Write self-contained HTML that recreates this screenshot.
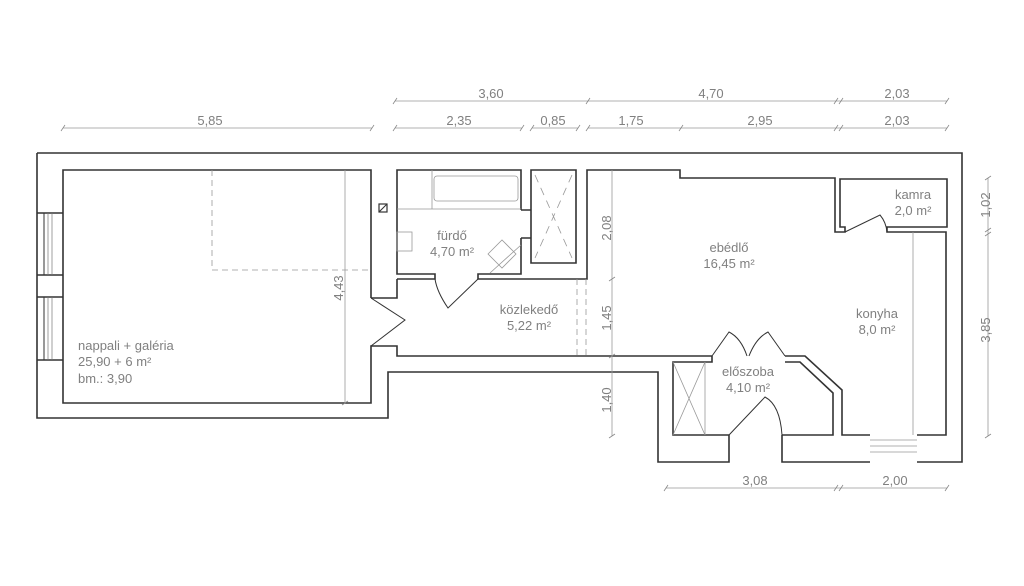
<!DOCTYPE html>
<html><head><meta charset="utf-8"><style>
html,body{margin:0;padding:0;background:#fff;width:1024px;height:586px;overflow:hidden}
text{font-family:"Liberation Sans",sans-serif;fill:#808080;font-size:13px}
</style></head><body>
<svg width="1024" height="586" viewBox="0 0 1024 586" xmlns="http://www.w3.org/2000/svg">
<g fill="none" stroke="#333" stroke-width="1.6">
<path d="M37,153 H962 V462 H917"/>
<path d="M870,462 H782 V435"/>
<path d="M729,435 V462 H658 V372 H388 V418 H37 V153"/>
<path d="M371,298 V170 H63 V403 H371 V346 H397 V356 H712"/>
<path d="M371,298 H397 V279"/>
<path d="M37,213 H63 M37,275 H63 M37,297 H63 M37,360 H63" />
<path d="M44,213 V275 M44,297 V360" stroke-width="1"/>
<path d="M48,213 V275 M48,297 V360 M52,213 V275 M52,297 V360" stroke-width="0.7" stroke="#777"/>
<path d="M397,279 H435 V274 H397 V170 H521 V210 M521,238 V274 H478 V279 H587 V170 H680 V178 H835 V232 H845 V227 H840 V179 H947 V227 H887 V232 H946 V435 H917 M870,435 H842 V390 L805,356 H785 M785,362 H800 L833,393 V435 H782 M729,435 H673 V362 H712 V356"/>
<path d="M531,170 H576 V263 H531 Z"/>
<path d="M521,210 H531 M521,238 H531"/>
<path d="M371,298 L405,320 L371,346" stroke-width="1"/>
<path d="M478,279 L448,308 Q437,292 435,279" stroke-width="1"/>
<path d="M712,356 L729,332 Q741,338 747,356 M785,356 L768,332 Q756,338 749,356" stroke-width="1"/>
<path d="M729,435 L765,397 Q780,405 782,435" stroke-width="1"/>
<path d="M845,232 L880,215 Q886,222 887,232" stroke-width="1"/>
</g>
<g fill="none" stroke="#999" stroke-width="0.8">
<path d="M212,170 V270 H371" stroke-dasharray="6,4"/>
<path d="M577,279 V356 M586,279 V356" stroke-dasharray="6,4"/>
<path d="M535,175 L572,258 M572,175 L535,258" stroke-dasharray="8,6"/>
<rect x="434" y="176" width="84" height="25" rx="3"/>
<path d="M397,209 H521 M432,170 V209"/>
<rect x="397" y="232" width="15" height="19"/>
<path d="M488,254 L502,240 L516,254 L502,268 Z M490,273 L521,245"/>
<path d="M673,362 L705,435 M705,362 L673,435 M705,362 V435"/>
<path d="M913,232 V435 M870,440 H917 M870,446 H917 M870,452 H917"/>
<path d="M345,170 V403"/>
<path d="M612,170 V436"/>
<path d="M395,101 H947 M395,128 H522 M532,128 H578 M588,128 H947 M63,128 H372 M988,178 V436 M666,488 H947"/>
</g>
<rect x="379" y="204" width="8" height="8" fill="none" stroke="#333" stroke-width="1.2"/>
<path d="M379,212 L387,204" stroke="#333"/>
<g stroke="#888" stroke-width="0.8">
<path d="M393,104 l4,-6 M586,104 l4,-6 M834,104 l4,-6 M839,104 l4,-6 M945,104 l4,-6"/>
<path d="M61,131 l4,-6 M370,131 l4,-6 M393,131 l4,-6 M520,131 l4,-6 M530,131 l4,-6 M576,131 l4,-6 M586,131 l4,-6 M679,131 l4,-6 M834,131 l4,-6 M839,131 l4,-6 M945,131 l4,-6"/>
<path d="M664,491 l4,-6 M834,491 l4,-6 M839,491 l4,-6 M945,491 l4,-6"/>
<path d="M985,180 l6,-4 M985,232 l6,-4 M985,236 l6,-4 M985,438 l6,-4"/>
<path d="M609,281 l6,-4 M609,358 l6,-4 M609,438 l6,-4 M342,405 l6,-4"/>
</g>
<g text-anchor="middle">
<text x="491" y="98">3,60</text><text x="711" y="98">4,70</text><text x="897" y="98">2,03</text>
<text x="210" y="125">5,85</text><text x="459" y="125">2,35</text><text x="553" y="125">0,85</text>
<text x="631" y="125">1,75</text><text x="760" y="125">2,95</text><text x="897" y="125">2,03</text>
<text x="755" y="485">3,08</text><text x="895" y="485">2,00</text>
<text transform="translate(990,205) rotate(-90)">1,02</text>
<text transform="translate(990,330) rotate(-90)">3,85</text>
<text transform="translate(611,228) rotate(-90)">2,08</text>
<text transform="translate(611,318) rotate(-90)">1,45</text>
<text transform="translate(611,400) rotate(-90)">1,40</text>
<text transform="translate(343,288) rotate(-90)">4,43</text>
<text x="452" y="240">fürdő</text><text x="452" y="256">4,70 m²</text>
<text x="529" y="314">közlekedő</text><text x="529" y="330">5,22 m²</text>
<text x="729" y="252">ebédlő</text><text x="729" y="268">16,45 m²</text>
<text x="877" y="318">konyha</text><text x="877" y="334">8,0 m²</text>
<text x="748" y="376">előszoba</text><text x="748" y="392">4,10 m²</text>
<text x="913" y="199">kamra</text><text x="913" y="215">2,0 m²</text>
</g>
<text x="78" y="350">nappali + galéria</text>
<text x="78" y="366">25,90 + 6 m²</text>
<text x="78" y="383">bm.: 3,90</text>
</svg>
</body></html>
